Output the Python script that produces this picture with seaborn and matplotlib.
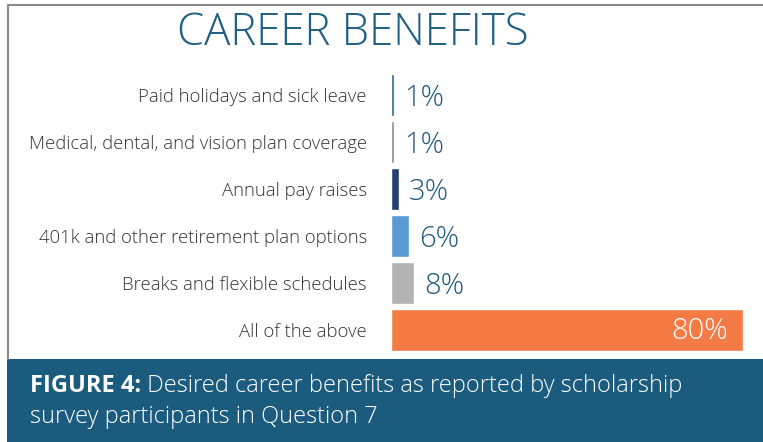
import matplotlib
matplotlib.use("Agg")
import matplotlib.pyplot as plt
import seaborn as sns
import pandas as pd
from matplotlib.patches import Rectangle
from matplotlib.lines import Line2D

categories = [
    "Paid holidays and sick leave",
    "Medical, dental, and vision plan coverage",
    "Annual pay raises",
    "401k and other retirement plan options",
    "Breaks and flexible schedules",
    "All of the above",
]
# bar lengths as drawn in the picture (percent)
bar_values = [0.8, 0.8, 2.0, 4.2, 5.4, 80.0]
value_labels = ["1%", "1%", "3%", "6%", "8%", "80%"]
bar_colors = ["#2a6496", "#8c8c8c", "#253f72", "#5b9bd5", "#b3b3b3", "#f47b45"]

title_text = "CAREER BENEFITS"
caption_bold = "FIGURE 4:"
caption_line1 = " Desired career benefits as reported by scholarship"
caption_line2 = "survey participants in Question 7"

sns.set_theme(style="white")
plt.rcParams["font.family"] = ["Open Sans", "DejaVu Sans"]

W, H = 763, 442
fig = plt.figure(figsize=(W / 100, H / 100), dpi=100)
fig.patch.set_facecolor("white")

# axes positioned in pixels
x0, x1 = 390.5, 743.3
y_top, y_bot = 71.5, 353.5
ax = fig.add_axes([x0 / W, 1 - y_bot / H, (x1 - x0) / W, (y_bot - y_top) / H])

df = pd.DataFrame({"cat": categories, "val": bar_values})
sns.barplot(data=df, x="val", y="cat", hue="cat", palette=bar_colors,
            legend=False, orient="h", width=0.88, ax=ax, saturation=1)
ax.set_xlim(0, 80)
ax.set_ylim(5.5, -0.5)
ax.set_xlabel("")
ax.set_ylabel("")
ax.set_xticks([])
for s in ax.spines.values():
    s.set_visible(False)
ax.set_facecolor("none")
ax.tick_params(axis="y", length=0, pad=17)
for lab in ax.get_yticklabels():
    lab.set_fontsize(13.3)
    lab.set_color("#333333")
    lab.set_fontweight("light")

for i, (v, lab) in enumerate(zip(bar_values, value_labels)):
    if v > 40:
        ax.annotate(lab, (v, i), xytext=(-11, -1), textcoords="offset points",
                    ha="right", va="center", color="white", fontsize=21,
                    fontweight="light")
    else:
        ax.annotate(lab, (v, i), xytext=(7, -2), textcoords="offset points",
                    ha="left", va="center", color="#1f5a7a", fontsize=21,
                    fontweight="light")

# frame lines (top and left)
fig.add_artist(Line2D([8 / W, 1], [1 - 5 / H, 1 - 5 / H], color="#8a8a8a", lw=1.5,
                      transform=fig.transFigure))
fig.add_artist(Line2D([8 / W, 8 / W], [1 - 5 / H, 1 - 359 / H], color="#8a8a8a", lw=1.5,
                      transform=fig.transFigure))

# caption band
fig.add_artist(Rectangle((7 / W, 0), 1 - 7 / W, (H - 359) / H, transform=fig.transFigure,
                         facecolor="#1a5b7e", edgecolor="none"))

fig.text(353 / W, 1 - 34 / H, title_text, ha="center", va="center",
         fontsize=31.5, color="#1f5f85", fontweight="light")

t1 = fig.text(30 / W, 1 - 386 / H, caption_bold, ha="left", va="center",
              fontsize=17, color="white", fontweight="bold")
fig.canvas.draw()
bb = t1.get_window_extent(renderer=fig.canvas.get_renderer())
fig.text(bb.x1 / W, 1 - 386 / H, caption_line1, ha="left", va="center",
         fontsize=17, color="white", fontweight="light")
fig.text(30 / W, 1 - 417 / H, caption_line2, ha="left", va="center",
         fontsize=17, color="white", fontweight="light")

fig.savefig("out.png", dpi=100)
